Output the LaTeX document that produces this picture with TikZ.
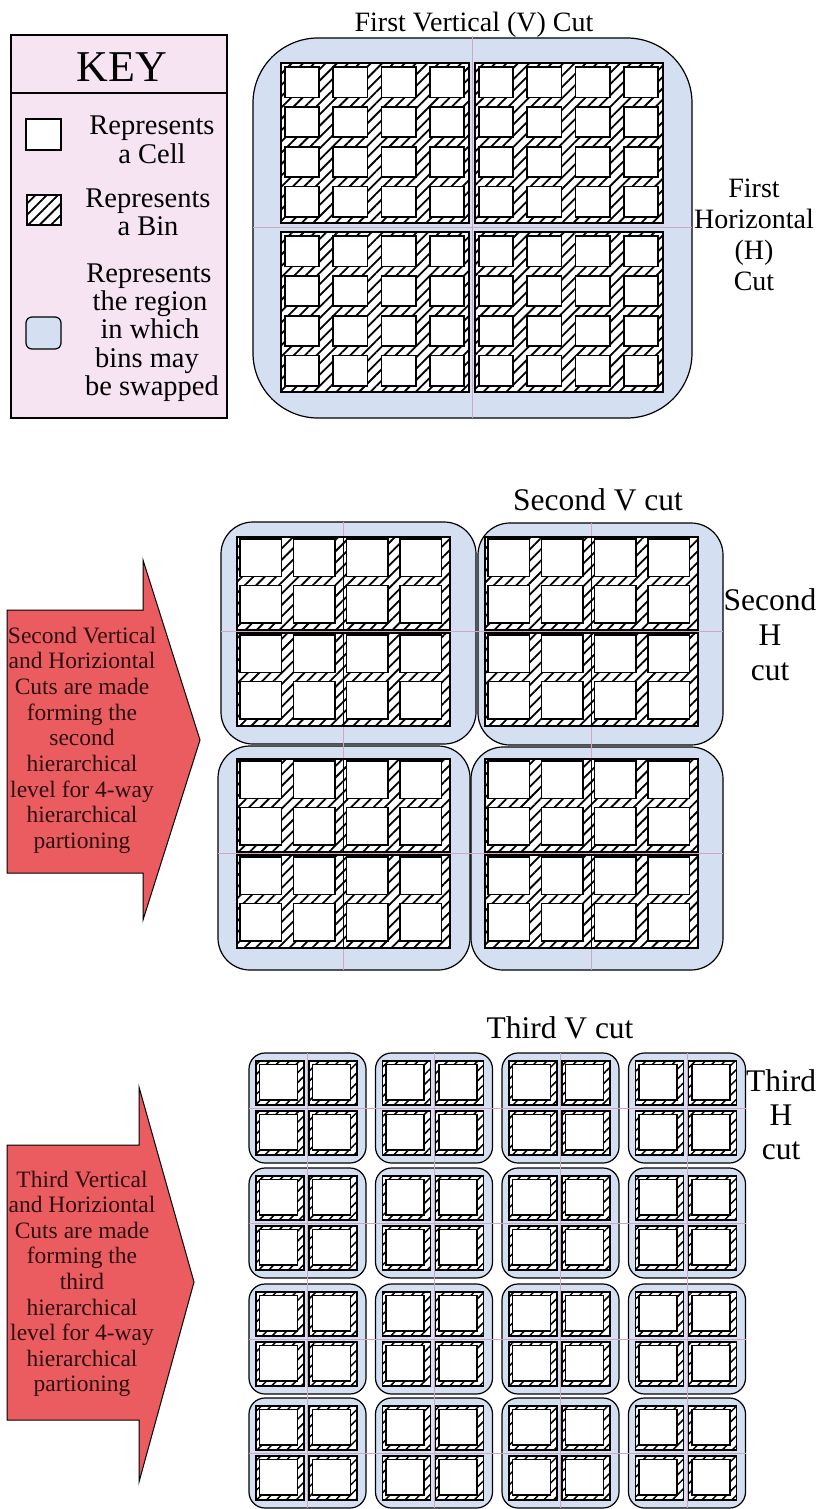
\documentclass[tikz,border=0pt]{standalone}
\usepackage{fontspec}
\setmainfont{Liberation Serif}
\usetikzlibrary{patterns.meta}
\definecolor{keypink}{RGB}{246,228,243}
\definecolor{boxblue}{RGB}{212,223,242}
\definecolor{arrowred}{RGB}{234,92,96}
\definecolor{cutcol}{RGB}{210,165,195}
\definecolor{arrowtext}{RGB}{45,15,15}
\tikzset{
  hatchreg/.style={draw=black, line width=1.7pt, preaction={fill=white},
    pattern={Lines[angle=45,distance=8pt,line width=1.8pt]}},
  cellsty/.style={draw=black, line width=1.7pt, fill=white},
  smallhatch/.style={draw=black, line width=1.4pt, preaction={fill=white},
    pattern={Lines[angle=45,distance=7pt,line width=1.5pt]}},
  smallcell/.style={draw=black, line width=1.4pt, fill=white},
  bluebox/.style={draw=black, line width=1.2pt, fill=boxblue},
  cutline/.style={draw=cutcol, line width=0.8pt},
  lbl/.style={anchor=base, inner sep=0pt, font=\fontsize{28}{31}\selectfont},
  lblb/.style={anchor=base, inner sep=0pt, font=\fontsize{31.5}{34}\selectfont},
  keytxt/.style={anchor=base, inner sep=0pt, font=\fontsize{28.5}{28}\selectfont},
  arrtxt/.style={anchor=base, inner sep=0pt, text=arrowtext, font=\fontsize{23.5}{25}\selectfont},
  arrowshape/.style={draw=black, line width=1pt, fill=arrowred, line join=miter}
}
\newcommand\TopQuad[2]{%
  \draw[hatchreg] ({#1},{#2}) rectangle ++(188,160);
  \foreach \i in {0,...,3}{\foreach \j in {0,...,3}{
    \draw[cellsty] ({#1+4+\i*48.25},{#2+4+\j*39.875}) rectangle ++(34.25,30.375);}}}
\newcommand\MidSub[2]{%
  \draw[hatchreg] ({#1},{#2}) rectangle ++(106.5,93);
  \foreach \i in {0,1}{\foreach \j in {0,1}{
    \draw[cellsty] ({#1+3+\i*53.5},{#2+2+\j*46.5}) rectangle ++(41.5,37.5);}}}
\newcommand\MidGrid[2]{%
  \MidSub{#1}{#2}\MidSub{#1+106.5}{#2}\MidSub{#1}{#2+96}\MidSub{#1+106.5}{#2+96}}
\newcommand\SubCell[2]{%
  \draw[smallhatch] ({#1},{#2}) rectangle ++(48,44);
  \draw[smallcell] ({#1+3.5},{#2+3.5}) rectangle ++(38,35.5);}
\begin{document}
\begin{tikzpicture}[x=1pt,y=-1pt]
\fill[white] (0,0) rectangle (818,1509);
\useasboundingbox (0,0) rectangle (818,1509);

% ---------- KEY ----------
\draw[fill=keypink, draw=black, line width=1.1pt] (11,35) rectangle (227,418);
\draw[black, line width=1.1pt] (11,93) -- (227,93);
\node[anchor=base, inner sep=0pt, font=\fontsize{44}{44}\selectfont] (keyt) at (122,82) {KEY};
\draw[cellsty, line width=1.3pt] (26,119) rectangle (61,150);
\node[keytxt] (k1a) at (152,135) {Represents};
\node[keytxt] (k1b) at (152,163) {a Cell};
\draw[hatchreg, line width=1.3pt] (27,195) rectangle (61,225);
\node[keytxt] (k2a) at (148,207) {Represents};
\node[keytxt] (k2b) at (148,235) {a Bin};
\draw[bluebox, rounded corners=6] (26,317) rectangle (61,349);
\node[keytxt] (k3a) at (149,282) {Represents};
\node[keytxt] (k3b) at (150,310) {the region};
\node[keytxt] (k3c) at (150,338) {in which};
\node[keytxt] (k3d) at (147,367) {bins may};
\node[keytxt] (k3e) at (152,395) {be swapped};

% ---------- FIRST LEVEL ----------
\node[lbl] (t1) at (474,32) {First Vertical (V) Cut};
\draw[bluebox, rounded corners=65] (253,38) rectangle (692,418);
\draw[cutline] (472.5,36) -- (472.5,418);
\draw[cutline] (253,227.5) -- (692,227.5);
\TopQuad{281}{63}
\TopQuad{475}{63}
\TopQuad{281}{232}
\TopQuad{475}{232}
\node[lbl] (h1a) at (754,197) {First};
\node[lbl] (h1b) at (754,228) {Horizontal};
\node[lbl] (h1c) at (754,259) {(H)};
\node[lbl] (h1d) at (754,290) {Cut};

% ---------- SECOND LEVEL ----------
\draw[arrowshape] (7,610) -- (143,610) -- (143,560) -- (200,740) -- (143,920) -- (143,873) -- (7,873) -- cycle;
\foreach \t [count=\k from 0] in {Second Vertical, and Horiziontal, Cuts are made, forming the, second, hierarchical, level for 4-way, hierarchical, partioning}
  \node[arrtxt] (a2l\k) at (82,{643+\k*25.7}) {\t};

\node[lblb] (t2) at (598,510) {Second V cut};
\draw[bluebox, rounded corners=32] (221,522) rectangle (476,744);
\draw[bluebox, rounded corners=32] (478,523) rectangle (723,745);
\draw[bluebox, rounded corners=32] (218,746) rectangle (470,970);
\draw[bluebox, rounded corners=32] (471,747) rectangle (723,970);
\draw[cutline] (343.5,522) -- (343.5,970);
\draw[cutline] (591.5,523) -- (591.5,970);
\draw[cutline] (221,631.5) -- (723,631.5);
\draw[cutline] (218,853.5) -- (723,853.5);
\MidGrid{237}{537}
\MidGrid{485}{537}
\MidGrid{237}{759}
\MidGrid{485}{759}
\node[lblb] (h2a) at (770,610) {Second};
\node[lblb] (h2b) at (770,645) {H};
\node[lblb] (h2c) at (770,680) {cut};

% ---------- THIRD LEVEL ----------
\draw[arrowshape] (7,1145) -- (139,1145) -- (139,1087) -- (194,1282) -- (139,1482) -- (139,1420) -- (7,1420) -- cycle;
\foreach \t [count=\k from 0] in {Third Vertical, and Horiziontal, Cuts are made, forming the, third, hierarchical, level for 4-way, hierarchical, partioning}
  \node[arrtxt] (a3l\k) at (82,{1187+\k*25.6}) {\t};

\node[lblb] (t3) at (560,1038) {Third V cut};
\foreach \cx in {249,375.5,502,628.5}{\foreach \cy in {1053,1168,1284,1398}{
  \draw[bluebox, rounded corners=16] (\cx,\cy) rectangle ++(117,110);}}
\foreach \cy in {1053,1168,1284,1398}{\draw[cutline] (249,{\cy+55}) -- (745.5,{\cy+55});}
\foreach \cx in {249,375.5,502,628.5}{\draw[cutline] ({\cx+58.5},1053) -- ({\cx+58.5},1508);}
\foreach \cx in {249,375.5,502,628.5}{\foreach \cy in {1053,1168,1284,1398}{
  \foreach \dx in {7,60}{\foreach \dy in {8,58}{\SubCell{\cx+\dx}{\cy+\dy}}}}}
\node[lblb] (h3a) at (781,1091) {Third};
\node[lblb] (h3b) at (781,1125) {H};
\node[lblb] (h3c) at (781,1159) {cut};
\end{tikzpicture}
\end{document}
